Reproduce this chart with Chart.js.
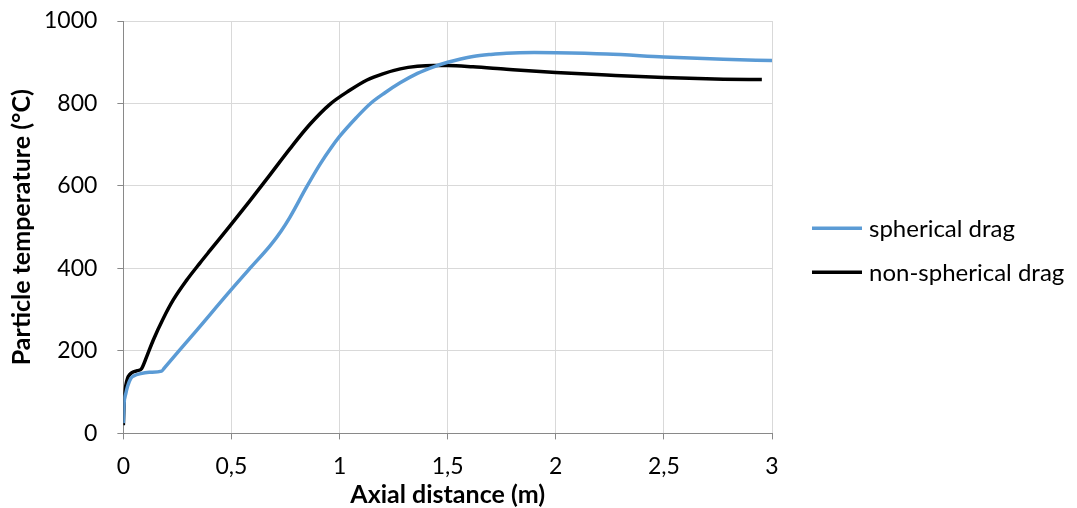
<!DOCTYPE html>
<html>
<head>
<meta charset="utf-8">
<script src="https://cdn.jsdelivr.net/npm/chart.js@4"></script>
<style>
  html, body { margin: 0; padding: 0; background: #fff; }
  #wrap { width: 1077px; height: 508px; }
</style>
</head>
<body>
<div id="wrap"><canvas id="temp-chart" width="1077" height="508"></canvas></div>
<script>
// Values (axial distance in m, temperature in °C)
const sphericalX = [0, 0.003, 0.011, 0.02, 0.034, 0.05, 0.08, 0.12, 0.177, 0.19, 0.339, 0.493, 0.585, 0.68, 0.73, 0.77, 0.847, 0.91, 0.96, 1.0, 1.078, 1.143, 1.21, 1.28, 1.36, 1.435, 1.5, 1.56, 1.617, 1.7, 1.772, 1.9, 2.0, 2.235, 2.5, 2.775, 3.0];
const sphericalY = [25, 70, 96, 115, 133, 140, 145, 148, 151, 159, 250, 345, 400, 456, 491, 524, 597, 653, 692, 720, 766, 800, 826, 850, 873, 889, 900, 908, 914, 919, 922, 923.5, 923, 920, 913, 907, 904];

const nonSphericalX = [0, 0.003, 0.006, 0.012, 0.019, 0.03, 0.045, 0.065, 0.084, 0.107, 0.138, 0.184, 0.23, 0.292, 0.354, 0.4, 0.493, 0.585, 0.678, 0.77, 0.862, 0.955, 1.047, 1.127, 1.2, 1.281, 1.36, 1.435, 1.5, 1.617, 1.772, 2.0, 2.235, 2.5, 2.775, 2.953];
const nonSphericalY = [20, 70, 96, 118, 133, 143, 149, 152, 157, 185, 226, 278, 323, 371, 413, 443, 503, 564, 627, 690, 749, 798, 832, 857, 872, 884, 890, 892, 892, 889, 883, 875, 869, 863, 859, 858];

const seriesLabels = ['spherical drag', 'non-spherical drag'];
const xTicks = [0, 0.5, 1, 1.5, 2, 2.5, 3];
const yTicks = [0, 200, 400, 600, 800, 1000];

const colors = {
  blue: '#5B9BD5',
  black: '#000000',
  grid: '#D9D9D9',
  axis: '#898989',
  text: '#000000'
};
const fontFamily = "Lato, 'Open Sans', sans-serif";

function toPoints(xs, ys) {
  return xs.map((x, i) => ({ x: x, y: ys[i] }));
}

// Legend drawn to the right of the plot, line sample + label
const sideLegend = {
  id: 'sideLegend',
  afterDraw(chart) {
    const { ctx, chartArea } = chart;
    const x0 = chartArea.right + 40;
    const midY = (chartArea.top + chartArea.bottom) / 2 + 23;
    ctx.save();
    ctx.font = '24px ' + fontFamily;
    ctx.textBaseline = 'middle';
    chart.data.datasets.forEach((ds, i) => {
      const y = midY + (i - 0.5) * 44;
      ctx.strokeStyle = ds.borderColor;
      ctx.lineWidth = ds.borderWidth;
      ctx.beginPath();
      ctx.moveTo(x0, y);
      ctx.lineTo(x0 + 50, y);
      ctx.stroke();
      ctx.fillStyle = colors.text;
      ctx.fillText(ds.label, x0 + 57, y + 1);
    });
    ctx.restore();
  }
};

new Chart(document.getElementById('temp-chart'), {
  type: 'scatter',
  data: {
    datasets: [
      {
        label: seriesLabels[0],
        data: toPoints(sphericalX, sphericalY),
        showLine: true,
        borderColor: colors.blue,
        backgroundColor: colors.blue,
        borderWidth: 3.5,
        pointRadius: 0,
        cubicInterpolationMode: 'monotone'
      },
      {
        label: seriesLabels[1],
        data: toPoints(nonSphericalX, nonSphericalY),
        showLine: true,
        borderColor: colors.black,
        backgroundColor: colors.black,
        borderWidth: 3.5,
        pointRadius: 0,
        cubicInterpolationMode: 'monotone'
      }
    ]
  },
  options: {
    responsive: false,
    animation: false,
    layout: { padding: { top: 21, right: 305, bottom: 0, left: 3 } },
    plugins: {
      legend: { display: false },
      tooltip: { enabled: false }
    },
    scales: {
      x: {
        type: 'linear',
        min: 0,
        max: 3,
        afterBuildTicks: (axis) => { axis.ticks = xTicks.map(v => ({ value: v })); },
        grid: { color: colors.grid, tickColor: colors.axis, tickLength: 6, lineWidth: 1 },
        border: { color: colors.axis, width: 1 },
        ticks: {
          color: colors.text,
          font: { family: fontFamily, size: 23 },
          padding: 13,
          maxRotation: 0,
          callback: (v) => String(v).replace('.', ',')
        },
        title: {
          display: true,
          text: 'Axial distance (m)',
          color: colors.text,
          font: { family: fontFamily, size: 25, weight: 'bold' },
          padding: { top: -13, bottom: -2 }
        }
      },
      y: {
        type: 'linear',
        min: 0,
        max: 1000,
        afterBuildTicks: (axis) => { axis.ticks = yTicks.map(v => ({ value: v })); },
        afterFit: (axis) => { axis.paddingTop = 14; axis.paddingBottom = 14; },
        grid: { color: colors.grid, tickColor: colors.axis, tickLength: 6, lineWidth: 1 },
        border: { color: colors.axis, width: 1 },
        ticks: {
          color: colors.text,
          font: { family: fontFamily, size: 23 },
          padding: 20,
          callback: (v) => String(v)
        },
        title: {
          display: true,
          text: 'Particle temperature (°C)',
          color: colors.text,
          font: { family: fontFamily, size: 25, weight: 'bold' },
          padding: { top: 4, bottom: -13 }
        }
      }
    }
  },
  plugins: [sideLegend]
});
</script>
</body>
</html>
